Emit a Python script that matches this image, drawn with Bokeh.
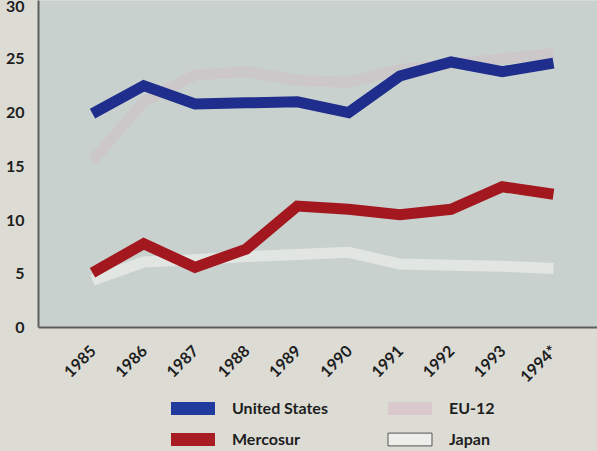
import math
from bokeh.plotting import figure
from bokeh.models import FixedTicker, Legend, LegendItem, Range1d, BoxAnnotation
from bokeh.embed import file_html
from bokeh.resources import INLINE

years = [1985, 1986, 1987, 1988, 1989, 1990, 1991, 1992, 1993, 1994]
year_labels = ["1985", "1986", "1987", "1988", "1989", "1990", "1991", "1992", "1993", "1994*"]
united_states = [19.9, 22.5, 20.8, 20.9, 21.0, 20.0, 23.4, 24.7, 23.8, 24.6]
mercosur = [5.1, 7.8, 5.6, 7.3, 11.3, 11.0, 10.5, 11.0, 13.1, 12.4]
eu12 = [15.5, 21.0, 23.5, 23.8, 23.0, 22.8, 24.0, 24.5, 25.0, 25.5]
japan = [4.4, 6.1, 6.3, 6.6, 6.8, 7.0, 5.9, 5.8, 5.7, 5.5]
y_ticks = [0, 5, 10, 15, 20, 25, 30]

PAGE_BG = "#dcdcd5"
PLOT_BG = "#c9d1ce"
US_C = "#1f2e8c"
ME_C = "#a3171f"
EU_C = "#ccc8c9"
JP_C = "#e2e6e2"
AXIS_C = "#5e5e5e"
FONT = "Lato"

Y_TOP = 30.42
p = figure(width=597, height=451, output_backend="svg", toolbar_location=None,
           x_range=Range1d(1983.946, 1994.859), y_range=Range1d(-11.53, Y_TOP),
           min_border_left=38, min_border_right=0, min_border_top=0,
           min_border_bottom=0,
           background_fill_color=PAGE_BG, border_fill_color=PAGE_BG,
           outline_line_color=None)

# plot area (value >= 0) tinted
p.add_layout(BoxAnnotation(bottom=0, fill_color=PLOT_BG, fill_alpha=1,
                           line_color=None, level="underlay"))

p.xgrid.grid_line_color = None
p.ygrid.grid_line_color = None

for ax in (p.xaxis, p.yaxis):
    ax.axis_line_color = AXIS_C
    ax.axis_line_width = 2
    ax.major_tick_line_color = None
    ax.minor_tick_line_color = None
    ax.major_tick_out = 0
    ax.major_tick_in = 0
    ax.major_label_text_font = FONT
    ax.major_label_text_font_style = "bold"
    ax.major_label_text_color = "#1e1e1e"

p.xaxis.fixed_location = 0
p.xaxis.ticker = FixedTicker(ticks=years)
p.xaxis.major_label_overrides = {y: lab for y, lab in zip(years, year_labels)}
p.xaxis.major_label_orientation = math.pi / 4
p.xaxis.major_label_text_font_size = "16px"
p.xaxis.major_label_standoff = 20

p.yaxis.bounds = (0, Y_TOP)
p.yaxis.ticker = FixedTicker(ticks=y_ticks)
p.yaxis.major_label_text_font_size = "16px"
p.yaxis.major_label_standoff = 14

LW = 11
p.line(years, eu12, line_color=EU_C, line_width=LW, line_join="miter")
p.line(years, japan, line_color=JP_C, line_width=LW, line_join="miter")
p.line(years, mercosur, line_color=ME_C, line_width=LW, line_join="miter")
p.line(years, united_states, line_color=US_C, line_width=LW, line_join="miter")

# zero-size rects on the series: they only provide the legend swatches
leg_us = p.rect(x=years, y=united_states, width=0, height=0,
                fill_color="#213a9e", line_color="#213a9e", line_alpha=0.0)
leg_me = p.rect(x=years, y=mercosur, width=0, height=0,
                fill_color="#a81c24", line_color="#a81c24", line_alpha=0.0)
leg_eu = p.rect(x=years, y=eu12, width=0, height=0,
                fill_color="#d9c9cd", line_color="#cfcfcb", line_alpha=0.0)
leg_jp = p.rect(x=years, y=japan, width=0, height=0,
                fill_color="#eeeeea", line_color="#555555", line_alpha=1.0)


def make_legend(items, loc):
    return Legend(items=items, location=loc, orientation="vertical",
                  glyph_width=55, glyph_height=16, label_height=19,
                  label_standoff=12, spacing=12, padding=0, margin=0,
                  border_line_color=None, background_fill_alpha=0,
                  label_text_font=FONT, label_text_font_style="bold",
                  label_text_font_size="16px", label_text_color="#1e1e1e")


p.add_layout(make_legend([LegendItem(label="United States", renderers=[leg_us]),
                          LegendItem(label="Mercosur", renderers=[leg_me])], (127, 3)))
p.add_layout(make_legend([LegendItem(label="EU-12", renderers=[leg_eu]),
                          LegendItem(label="Japan", renderers=[leg_jp])], (344, 3)))

html = file_html(p, INLINE)
html = html.replace("</head>",
                    "<style>html, body { background-color: %s; }</style></head>" % PAGE_BG, 1)
open("out.html", "w").write(html)
